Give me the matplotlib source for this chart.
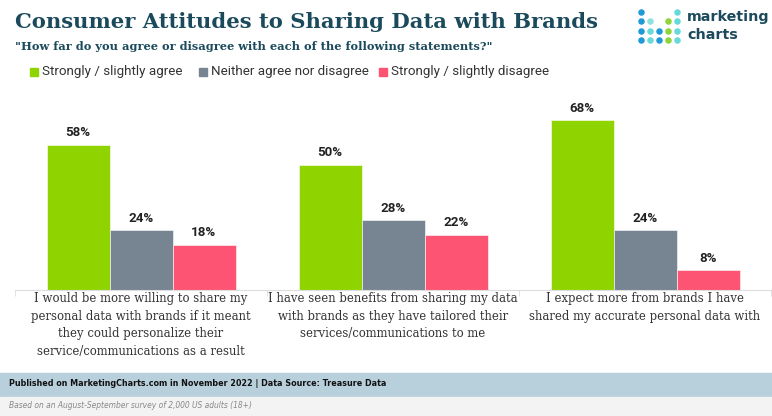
import numpy as np
import matplotlib.pyplot as plt
from matplotlib.patches import Rectangle

categories = [
    "I would be more willing to share my\npersonal data with brands if it meant\nthey could personalize their\nservice/communications as a result",
    "I have seen benefits from sharing my data\nwith brands as they have tailored their\nservices/communications to me",
    "I expect more from brands I have\nshared my accurate personal data with",
]
series_names = ["Strongly / slightly agree", "Neither agree nor disagree", "Strongly / slightly disagree"]
agree = [58, 50, 68]
neither = [24, 28, 24]
disagree = [18, 22, 8]
colors = ["#8fd400", "#778491", "#fc5472"]

title_col = "#1b4a5c"

fig = plt.figure(figsize=(7.72, 4.16), dpi=100)
W, H = 772, 416

def fx(px):
    return px / W

def fy(py):
    return 1 - py / H

# title block
fig.text(fx(15), fy(22), "Consumer Attitudes to Sharing Data with Brands", family="DejaVu Serif",
         weight="bold", size=15.2, color=title_col, va="center", ha="left")
fig.text(fx(15), fy(47), '"How far do you agree or disagree with each of the following statements?"',
         family="DejaVu Serif", weight="bold", size=8.2, color=title_col, va="center", ha="left")

# legend
lx = [30, 199, 379]
for x, name, c in zip(lx, series_names, colors):
    fig.patches.append(Rectangle((fx(x), fy(76)), fx(8), 8 / H, color=c, transform=fig.transFigure))
    fig.text(fx(x + 12), fy(72), name, family="Roboto", size=9.6, color="#333333", va="center", ha="left")

# logo
dots = [
    (0, 0, "#1f9ad6"), (4, 0, "#66d9d9"),
    (0, 1, "#1f9ad6"), (1, 1, "#8fe0e0"), (3, 1, "#8fd43a"), (4, 1, "#66d9d9"),
    (0, 2, "#1f9ad6"), (1, 2, "#66d9d9"), (2, 2, "#1f9ad6"), (3, 2, "#8fd43a"), (4, 2, "#66d9d9"),
    (0, 3, "#1f9ad6"), (1, 3, "#66d9d9"), (2, 3, "#1f9ad6"), (3, 3, "#8fd43a"), (4, 3, "#66d9d9"),
]
lax = fig.add_axes([fx(636), fy(46), fx(45), 40 / H])
lax.set_xlim(-0.5, 4.5)
lax.set_ylim(3.6, -0.6)
lax.axis("off")
for cx, cy, c in dots:
    lax.scatter(cx, cy, s=22, color=c, lw=0)
fig.text(fx(687), fy(17), "marketing", family="DejaVu Sans", weight="bold", size=10.3,
         color=title_col, va="center", ha="left")
fig.text(fx(687), fy(35), "charts", family="DejaVu Sans", weight="bold", size=10.3,
         color=title_col, va="center", ha="left")

# main bars
ax = fig.add_axes([fx(15), fy(290), fx(756), 190 / H])
x = np.arange(len(categories))
w = 0.25
for i, (vals, c) in enumerate(zip([agree, neither, disagree], colors)):
    bars = ax.bar(x + (i - 1) * w, vals, w, color=c, edgecolor="white", linewidth=0.4)
    for b, v in zip(bars, vals):
        ax.text(b.get_x() + b.get_width() / 2, v + 2.2, f"{v}%", ha="center", va="bottom",
                family="Roboto", weight="bold", size=9.6, color="#222222")

ax.set_xlim(-0.5, 2.5)
ax.set_ylim(0, 76)
ax.set_yticks([])
for s in ["top", "right", "left"]:
    ax.spines[s].set_visible(False)
ax.spines["bottom"].set_color("#dddddd")
ax.set_xticks(x)
ax.set_xticklabels(categories, family="DejaVu Serif", size=8.4, color="#333333", linespacing=1.45)
ax.tick_params(axis="x", length=0, pad=1.5)
ax.set_xticks([-0.5, 0.5, 1.5, 2.5], minor=True)
ax.tick_params(axis="x", which="minor", length=4, color="#dddddd")

# footer
fig.patches.append(Rectangle((0, fy(397)), 1, 24 / H, color="#b8cfdc", transform=fig.transFigure))
fig.patches.append(Rectangle((0, 0), 1, fy(397), color="#f3f3f3", transform=fig.transFigure))
fig.text(fx(9), fy(384), "Published on MarketingCharts.com in November 2022 | Data Source: Treasure Data",
         family="DejaVu Sans", stretch="condensed", weight="bold", size=6.4, color="#111111",
         va="center", ha="left")
fig.text(fx(9), fy(406), "Based on an August-September survey of 2,000 US adults (18+)",
         family="DejaVu Sans", stretch="condensed", style="italic", size=6.0, color="#888888",
         va="center", ha="left")

fig.savefig("out.png", dpi=100)
